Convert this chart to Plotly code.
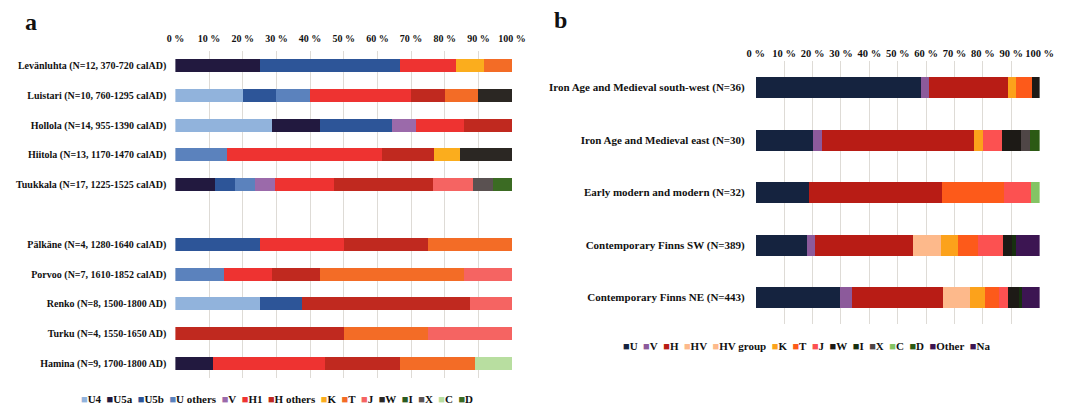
import plotly.graph_objects as go

# ---------------- Panel a data ----------------
sites_a = [
    "Levänluhta (N=12, 370-720 calAD)",
    "Luistari (N=10, 760-1295 calAD)",
    "Hollola (N=14, 955-1390 calAD)",
    "Hiitola (N=13, 1170-1470 calAD)",
    "Tuukkala (N=17, 1225-1525 calAD)",
    " ",
    "Pälkäne (N=4, 1280-1640 calAD)",
    "Porvoo (N=7, 1610-1852 calAD)",
    "Renko (N=8, 1500-1800 AD)",
    "Turku (N=4, 1550-1650 AD)",
    "Hamina (N=9, 1700-1800 AD)",
]
series_a = ["U4", "U5a", "U5b", "U others", "V", "H1", "H others",
            "K", "T", "J", "W", "I", "X", "C", "D"]
colors_a = ["#91b3dc", "#22193f", "#2d5598", "#5b82bd", "#9b6aaa", "#ee3331",
            "#c0291f", "#fbad1d", "#f36c26", "#f56462", "#2b2723", "#2a5a1e",
            "#5a5151", "#b8dea0", "#3b6b23"]
# percentages per site (rows follow sites_a)
U4_a       = [0, 20, 28.6, 0, 0, 0, 0, 0, 25, 0, 0]
U5a_a      = [25, 0, 14.3, 0, 11.8, 0, 0, 0, 0, 0, 11.1]
U5b_a      = [41.7, 10, 21.4, 0, 5.9, 0, 25, 0, 12.5, 0, 0]
Uothers_a  = [0, 10, 0, 15.4, 5.9, 0, 0, 14.3, 0, 0, 0]
V_a        = [0, 0, 7.1, 0, 5.9, 0, 0, 0, 0, 0, 0]
H1_a       = [16.7, 30, 14.3, 46.1, 17.6, 0, 25, 14.3, 0, 0, 33.4]
Hothers_a  = [0, 10, 14.3, 15.4, 29.4, 0, 25, 14.3, 50, 50, 22.2]
K_a        = [8.3, 0, 0, 7.7, 0, 0, 0, 0, 0, 0, 0]
T_a        = [8.3, 10, 0, 0, 0, 0, 25, 42.8, 0, 25, 22.2]
J_a        = [0, 0, 0, 0, 11.8, 0, 0, 14.3, 12.5, 25, 0]
W_a        = [0, 10, 0, 15.4, 0, 0, 0, 0, 0, 0, 0]
I_a        = [0, 0, 0, 0, 0, 0, 0, 0, 0, 0, 0]
X_a        = [0, 0, 0, 0, 5.9, 0, 0, 0, 0, 0, 0]
C_a        = [0, 0, 0, 0, 0, 0, 0, 0, 0, 0, 11.1]
D_a        = [0, 0, 0, 0, 5.8, 0, 0, 0, 0, 0, 0]
values_a = [U4_a, U5a_a, U5b_a, Uothers_a, V_a, H1_a, Hothers_a, K_a, T_a,
            J_a, W_a, I_a, X_a, C_a, D_a]

# ---------------- Panel b data ----------------
groups_b = [
    "Iron Age and Medieval south-west (N=36)",
    "Iron Age and Medieval east (N=30)",
    "Early modern and modern (N=32)",
    "Contemporary Finns SW (N=389)",
    "Contemporary Finns NE (N=443)",
]
series_b = ["U", "V", "H", "HV", "HV group", "K", "T", "J", "W", "I", "X",
            "C", "D", "Other", "Na"]
colors_b = ["#15233f", "#8c5a9b", "#b81c15", "#fdb98b", "#fdb98b", "#fca21b",
            "#fd5a1a", "#fc5151", "#1d1a16", "#17300f", "#4f4646", "#84c464",
            "#2c5a14", "#3c1552", "#3c1552"]
U_b       = [58.3, 20, 18.8, 18.0, 29.8]
V_b       = [2.8, 3.3, 0, 2.9, 4.0]
H_b       = [27.7, 53.4, 46.8, 34.4, 32.3]
HV_b      = [0, 0, 0, 9.8, 9.4]
HVgroup_b = [0, 0, 0, 0, 0]
K_b       = [2.8, 3.3, 0, 6.2, 5.2]
T_b       = [5.6, 0, 21.9, 7.1, 5.1]
J_b       = [0, 6.7, 9.4, 8.6, 3.1]
W_b       = [2.8, 6.7, 0, 3.2, 3.9]
I_b       = [0, 0, 0, 1.5, 0.9]
X_b       = [0, 3.3, 0, 0, 0]
C_b       = [0, 0, 3.1, 0, 0]
D_b       = [0, 3.3, 0, 0, 0]
Other_b   = [0, 0, 0, 8.3, 6.3]
Na_b      = [0, 0, 0, 0, 0]
values_b = [U_b, V_b, H_b, HV_b, HVgroup_b, K_b, T_b, J_b, W_b, I_b, X_b,
            C_b, D_b, Other_b, Na_b]

ticks = [0, 10, 20, 30, 40, 50, 60, 70, 80, 90, 100]
tick_text = [f"{t} %" for t in ticks]

SERIF = "Liberation Serif"
W, H = 1083, 408

fig = go.Figure()
for name, col, vals in zip(series_a, colors_a, values_a):
    fig.add_trace(go.Bar(
        x=vals, y=sites_a, name=name, orientation="h", width=0.44,
        marker=dict(color=col, line=dict(width=0)),
        xaxis="x", yaxis="y", showlegend=False))
for name, col, vals in zip(series_b, colors_b, values_b):
    fig.add_trace(go.Bar(
        x=vals, y=groups_b, name=name, orientation="h", width=0.4,
        marker=dict(color=col, line=dict(width=0)),
        xaxis="x2", yaxis="y2", showlegend=False))

def legend_text(names, cols):
    parts = []
    for n, c in zip(names, cols):
        parts.append(f'<span style="color:{c}">■</span>{n}')
    return "\u00a0\u00a0".join(parts)

grid = "#dedbd6"
def xaxis_cfg(domain, anchor, standoff, size):
    return dict(domain=domain, anchor=anchor, range=[0, 100], tickvals=ticks,
                ticktext=tick_text, side="top", showgrid=True, gridcolor=grid,
                gridwidth=1, zeroline=False, showline=False, ticks="", ticklen=0,
                tickangle=0, fixedrange=True, ticklabelstandoff=standoff,
                tickfont=dict(family=SERIF, size=size, color="#111", weight="bold"))

def yaxis_cfg(domain, anchor, cats, standoff, size):
    return dict(domain=domain, anchor=anchor, autorange="reversed",
                type="category", categoryarray=cats, categoryorder="array",
                showgrid=False, zeroline=False, showline=False, ticks="", ticklen=0,
                fixedrange=True, ticklabelstandoff=standoff,
                tickfont=dict(family=SERIF, size=size, color="#111", weight="bold"))

fig.update_layout(
    width=W, height=H,
    margin=dict(l=0, r=0, t=0, b=0),
    paper_bgcolor="white", plot_bgcolor="white",
    barmode="stack",
    xaxis=xaxis_cfg([170 / W, 514 / W], "y", 6, 10),
    yaxis=yaxis_cfg([1 - 378.4 / H, 1 - 50.6 / H], "x", sites_a, 8, 10),
    xaxis2=xaxis_cfg([763 / W, 1053 / W], "y2", 1, 10.5),
    yaxis2=yaxis_cfg([1 - 323.75 / H, 1 - 61.25 / H], "x2", groups_b, 10, 11),
    annotations=[
        dict(text="a", x=14 / W, y=1 - 22 / H, xref="paper", yref="paper",
             xanchor="left", yanchor="middle", showarrow=False,
             font=dict(family=SERIF, size=24, color="#111", weight="bold")),
        dict(text="b", x=555 / W, y=1 - 20 / H, xref="paper", yref="paper",
             xanchor="left", yanchor="middle", showarrow=False,
             font=dict(family=SERIF, size=24, color="#111", weight="bold")),
        dict(text=legend_text(series_a, colors_a), x=274 / W, y=1 - 399 / H,
             xref="paper", yref="paper", xanchor="center", yanchor="middle",
             showarrow=False,
             font=dict(family=SERIF, size=11, color="#111", weight="bold")),
        dict(text=legend_text(series_b, colors_b), x=815 / W, y=1 - 346 / H,
             xref="paper", yref="paper", xanchor="center", yanchor="middle",
             showarrow=False,
             font=dict(family=SERIF, size=11, color="#111", weight="bold")),
    ],
)

fig.write_html("out.html", config={"displayModeBar": False},
               post_script="document.body.style.margin='0';document.body.style.overflow='hidden';")
